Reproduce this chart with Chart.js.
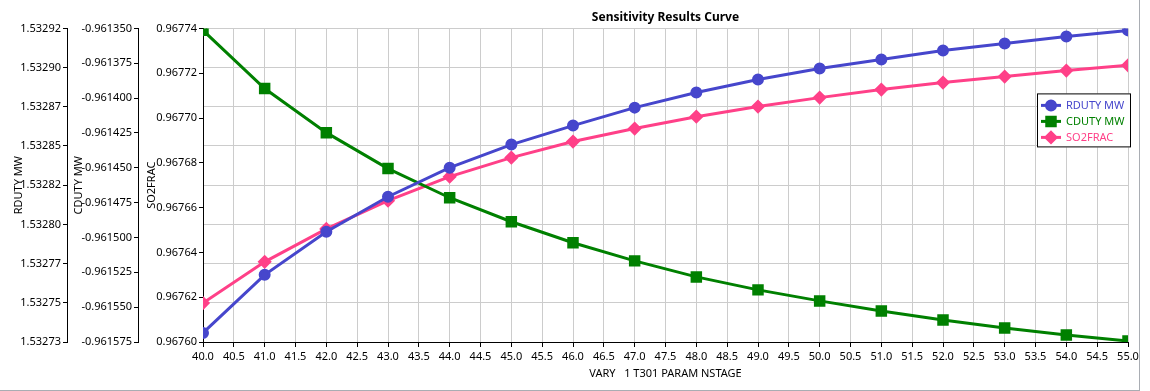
<!DOCTYPE html>
<html>
<head>
<meta charset="utf-8">
<script src="https://cdn.jsdelivr.net/npm/chart.js@4.4.1/dist/chart.umd.min.js"></script>
<style>
  body { margin: 0; background: #fff; }
  #wrap { width: 1139px; height: 390px; border-right: 1px solid #a9adb3; border-bottom: 1px solid #a9adb3; }
</style>
</head>
<body>
<div id="wrap"><canvas id="myChart" width="1139" height="390"></canvas></div>
<script>
const stages = [40, 41, 42, 43, 44, 45, 46, 47, 48, 49, 50, 51, 52, 53, 54, 55];

const rduty = [1.5327355, 1.5327707, 1.5327968, 1.532818, 1.5328356, 1.5328496, 1.5328611, 1.532872,
    1.5328812, 1.532889, 1.5328957, 1.5329012, 1.5329066, 1.5329109, 1.5329151, 1.5329188];
const cduty = [-0.9613514, -0.9613931, -0.9614248, -0.9614506, -0.9614715, -0.9614887, -0.9615038, -0.9615168,
    -0.9615283, -0.9615376, -0.9615455, -0.9615527, -0.9615592, -0.9615649, -0.96157, -0.9615743];
const so2frac = [0.9676174, 0.9676358, 0.9676505, 0.9676631, 0.9676738, 0.9676823, 0.9676895, 0.9676953,
    0.9677006, 0.9677051, 0.9677091, 0.9677127, 0.9677158, 0.9677185, 0.9677212, 0.9677235];

// tick labels as printed on each axis, bottom to top
const rdutyTicks = ['1.53273', '1.53275', '1.53277', '1.53280', '1.53282', '1.53285', '1.53287', '1.53290', '1.53292'];
const cdutyTicks = ['-0.961575', '-0.961550', '-0.961525', '-0.961500', '-0.961475', '-0.961450', '-0.961425', '-0.961400', '-0.961375', '-0.961350'];
const so2Ticks = ['0.96760', '0.96762', '0.96764', '0.96766', '0.96768', '0.96770', '0.96772', '0.96774'];

const FONT = 'Noto Sans';
const tickFont = { family: FONT, size: 11 };

function pts(vals) {
    return stages.map((s, i) => ({ x: s, y: vals[i] }));
}

function evenTicks(labelArr) {
    return function (scale) {
        const lo = scale.min, hi = scale.max, n = labelArr.length;
        scale.ticks = labelArr.map((t, i) => ({ value: lo + (hi - lo) * i / (n - 1) }));
    };
}

function yAxis(name, labelArr, weight, width, titlePad, showGrid) {
    return {
        type: 'linear',
        position: 'left',
        weight: weight,
        min: parseFloat(labelArr[0]),
        max: parseFloat(labelArr[labelArr.length - 1]),
        title: { display: true, text: name, color: '#000', font: tickFont, padding: { top: titlePad, bottom: 0 } },
        ticks: { color: '#000', font: tickFont, padding: 2, autoSkip: false, callback: (v, i) => labelArr[i] },
        grid: { drawOnChartArea: showGrid, color: '#cccccc', tickColor: '#000', tickLength: 4 },
        border: { color: '#000', width: 1 },
        afterBuildTicks: evenTicks(labelArr),
        afterFit: s => { s.width = width; }
    };
}

const titleOnPlot = {
    id: 'titleOnPlot',
    afterLayout(chart) {
        const t = chart.titleBlock;
        t.left = chart.chartArea.left;
        t.right = chart.chartArea.right;
    }
};

const boxLegend = {
    id: 'boxLegend',
    afterDraw(chart) {
        const ctx = chart.ctx;
        const x0 = chart.chartArea.right - 91, y0 = chart.chartArea.top + 65;
        ctx.save();
        ctx.fillStyle = '#fff';
        ctx.fillRect(x0, y0, 94, 54);
        ctx.strokeStyle = '#000';
        ctx.lineWidth = 1;
        ctx.strokeRect(x0 + 0.5, y0 + 0.5, 93, 53);
        ctx.font = '11px "' + FONT + '"';
        ctx.textBaseline = 'middle';
        chart.data.datasets.forEach((ds, i) => {
            const y = y0 + 12 + i * 16;
            ctx.strokeStyle = ds.borderColor;
            ctx.lineWidth = 3;
            ctx.beginPath();
            ctx.moveTo(x0 + 4, y);
            ctx.lineTo(x0 + 24, y);
            ctx.stroke();
            Chart.helpers.drawPoint(ctx, {
                pointStyle: ds.pointStyle, radius: ds.pointRadius, borderWidth: 1
            }, x0 + 14, y);
            ctx.fillStyle = ds.borderColor;
            ctx.strokeStyle = ds.borderColor;
            ctx.fill();
            ctx.fillText(ds.label, x0 + 29, y);
        });
        ctx.restore();
    }
};

const data = {
    datasets: [{
        label: 'RDUTY MW',
        yAxisID: 'yR',
        data: pts(rduty),
        borderColor: '#4646cc',
        backgroundColor: '#4646cc',
        pointStyle: 'circle',
        pointRadius: 4.5,
        borderWidth: 3
    }, {
        label: 'CDUTY MW',
        yAxisID: 'yC',
        data: pts(cduty),
        borderColor: '#008000',
        backgroundColor: '#008000',
        pointStyle: 'rect',
        pointRadius: 6,
        borderWidth: 3
    }, {
        label: 'SO2FRAC',
        yAxisID: 'yS',
        data: pts(so2frac),
        borderColor: '#ff4088',
        backgroundColor: '#ff4088',
        pointStyle: 'rectRot',
        pointRadius: 5,
        borderWidth: 3
    }]
};

const config = {
    type: 'line',
    data: data,
    options: {
        responsive: false,
        animation: false,
        layout: { padding: { left: 0, right: 11, top: 0, bottom: 0 } },
        plugins: {
            legend: { display: false },
            tooltip: { enabled: false },
            title: {
                display: true,
                text: 'Sensitivity Results Curve',
                color: '#000',
                font: { family: FONT, size: 12, weight: 'bold' },
                padding: { top: 10, bottom: 4 }
            }
        },
        scales: {
            x: {
                type: 'linear',
                min: 40,
                max: 55,
                title: { display: true, text: 'VARY   1 T301 PARAM NSTAGE', color: '#000', font: tickFont, padding: { top: 2, bottom: 10 } },
                ticks: { stepSize: 0.5, color: '#000', font: tickFont, padding: 3, maxRotation: 0, autoSkip: false,
                    callback: v => v.toFixed(1) },
                grid: { color: '#cccccc', tickColor: '#000', tickLength: 5 },
                border: { color: '#000', width: 1 },
                afterFit: s => { s.height = 48; s.paddingRight = 0; s.paddingLeft = 0; }
            },
            yR: yAxis('RDUTY MW', rdutyTicks, 2, 67, 12, true),
            yC: yAxis('CDUTY MW', cdutyTicks, 1, 71, 5, false),
            yS: yAxis('SO2FRAC', so2Ticks, 0, 65, 7, false)
        }
    },
    plugins: [titleOnPlot, boxLegend]
};

const myChart = new Chart(document.getElementById('myChart'), config);
</script>
</body>
</html>
